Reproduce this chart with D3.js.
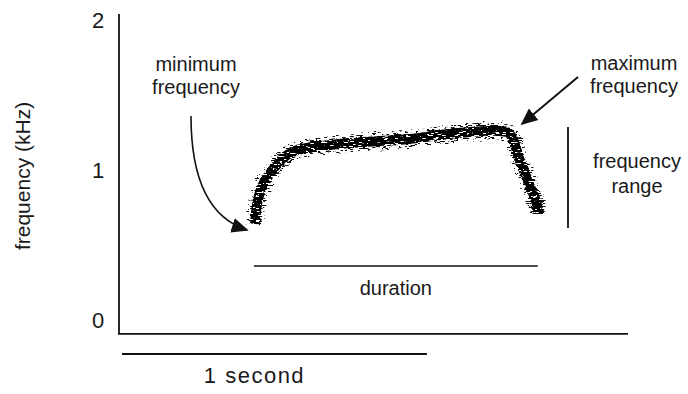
<!DOCTYPE html>
<html>
<head>
<meta charset="utf-8">
<script src="https://cdn.jsdelivr.net/npm/d3@7/dist/d3.min.js"></script>
<style>
  html, body { margin: 0; padding: 0; background: #fff; }
  svg { display: block; }
  text { font-family: "Liberation Sans", Arial, Helvetica, sans-serif; fill: #1a1a1a; }
</style>
</head>
<body>
<svg id="chart" width="688" height="394"></svg>
<script>
// Frequency contour of one call: time (s) and frequency (kHz)
const contourTime = [0.443, 0.449, 0.459, 0.475, 0.498, 0.531, 0.574, 0.630, 0.689, 0.754,
                     0.852, 0.951, 1.049, 1.148, 1.246, 1.275, 1.292, 1.308, 1.325, 1.344,
                     1.361, 1.370, 1.374];
const contourFreq = [0.640, 0.767, 0.853, 0.927, 0.993, 1.073, 1.127, 1.153, 1.167, 1.180,
                     1.193, 1.207, 1.233, 1.253, 1.260, 1.247, 1.187, 1.080, 0.993, 0.893,
                     0.813, 0.747, 0.707];

// Axis ticks
const freqTicks = [0, 1, 2];
const freqTickLabels = ["0", "1", "2"];

// Measured call parameters
const callStart = 0.439;     // s
const callEnd = 1.370;       // s
const freqMin = 0.613;       // kHz
const freqMax = 1.287;       // kHz
const scaleBar = [0, 1];     // s, "1 second" bar

const svg = d3.select("#chart");

const x = d3.scaleLinear().domain([0, 1.666]).range([120, 628]);
const y = d3.scaleLinear().domain([0, 2]).range([320, 20]);

// plot frame limits (in data units)
const tLo = 0, tHi = 1.666;
const fLo = -0.093, fHi = 2.04;

const defs = svg.append("defs");

// Grain filters: horizontal speckle like a printed spectrogram
function grainFilter(id, seed, freq, slope, offset, disp) {
  const f = defs.append("filter").attr("id", id)
    .attr("x", "-10%").attr("y", "-40%").attr("width", "120%").attr("height", "180%");
  f.append("feTurbulence").attr("type", "fractalNoise")
    .attr("baseFrequency", "0.2 0.7").attr("numOctaves", 1).attr("seed", seed + 11).attr("result", "n");
  f.append("feDisplacementMap").attr("in", "SourceGraphic").attr("in2", "n")
    .attr("scale", disp).attr("xChannelSelector", "R").attr("yChannelSelector", "G").attr("result", "d");
  f.append("feTurbulence").attr("type", "fractalNoise")
    .attr("baseFrequency", freq).attr("numOctaves", 2).attr("seed", seed).attr("result", "n2");
  f.append("feColorMatrix").attr("in", "n2").attr("type", "matrix")
    .attr("values", `0 0 0 0 0  0 0 0 0 0  0 0 0 0 0  ${slope} 0 0 0 ${offset}`).attr("result", "mask");
  f.append("feComposite").attr("in", "d").attr("in2", "mask").attr("operator", "in");
}
grainFilter("grainCore", 3, "0.18 1.1", -24, 15.6, 3.5);
grainFilter("grainFringe", 9, "0.22 1.4", -22, 9.4, 8);

// Arrowhead
defs.append("marker").attr("id", "head")
  .attr("viewBox", "0 0 10 10").attr("refX", 9).attr("refY", 5)
  .attr("markerWidth", 17).attr("markerHeight", 17).attr("markerUnits", "userSpaceOnUse")
  .attr("orient", "auto")
  .append("path").attr("d", "M0,0.6 L10,5 L0,9.4 Z").attr("fill", "#111");

// Axes frame
svg.append("line")
  .attr("x1", x(tLo) - 1).attr("x2", x(tLo) - 1)
  .attr("y1", y(fHi)).attr("y2", y(fLo))
  .attr("stroke", "#111").attr("stroke-width", 1.8);
svg.append("line")
  .attr("x1", x(tLo) - 1.9).attr("x2", x(tHi))
  .attr("y1", y(fLo)).attr("y2", y(fLo))
  .attr("stroke", "#111").attr("stroke-width", 1.8);

// Frequency tick labels
const yAxis = d3.axisLeft(y).tickValues(freqTicks)
  .tickFormat((d, i) => freqTickLabels[i]).tickSize(0).tickPadding(0);
const gy = svg.append("g").attr("transform", `translate(${x(tLo) - 22},0)`).call(yAxis);
gy.select(".domain").remove();
gy.selectAll("text")
  .attr("text-anchor", "middle").attr("dy", "0.36em")
  .style("font-family", '"Liberation Sans", Arial, sans-serif')
  .style("font-size", "22px").attr("fill", "#1a1a1a");

// Axis title
svg.append("text")
  .attr("transform", `translate(30,${(y(fHi) + y(fLo)) / 2 + 2}) rotate(-90)`)
  .attr("text-anchor", "middle")
  .style("font-size", "21px")
  .text("frequency (kHz)");

// Spectrogram trace
const line = d3.line()
  .x((d, i) => x(contourTime[i]))
  .y((d, i) => y(contourFreq[i]))
  .curve(d3.curveCatmullRom.alpha(0.5));

svg.append("path")
  .attr("d", line(contourTime))
  .attr("filter", "url(#grainFringe)")
  .attr("fill", "none").attr("stroke", "#111")
  .attr("stroke-width", 17).attr("stroke-linecap", "butt").attr("stroke-linejoin", "round");
svg.append("path")
  .attr("d", line(contourTime))
  .attr("filter", "url(#grainCore)")
  .attr("fill", "none").attr("stroke", "#050505")
  .attr("stroke-width", 10).attr("stroke-linecap", "butt").attr("stroke-linejoin", "round");

// Duration bar
const durY = 266;
svg.append("line")
  .attr("x1", x(callStart)).attr("x2", x(callEnd))
  .attr("y1", durY).attr("y2", durY)
  .attr("stroke", "#111").attr("stroke-width", 1.6);
svg.append("text")
  .attr("x", (x(callStart) + x(callEnd)) / 2).attr("y", durY + 29)
  .attr("text-anchor", "middle").style("font-size", "20px")
  .text("duration");

// Frequency range bar
const rangeX = 568;
svg.append("line")
  .attr("x1", rangeX).attr("x2", rangeX)
  .attr("y1", y(freqMax)).attr("y2", y(freqMin))
  .attr("stroke", "#111").attr("stroke-width", 1.8);
const rangeLabel = svg.append("text")
  .attr("text-anchor", "middle").style("font-size", "20px");
rangeLabel.append("tspan").attr("x", 637).attr("y", 168).text("frequency");
rangeLabel.append("tspan").attr("x", 637).attr("y", 193).text("range");

// Minimum frequency annotation
const minLabel = svg.append("text").attr("text-anchor", "middle").style("font-size", "20px");
minLabel.append("tspan").attr("x", 196).attr("y", 71).text("minimum");
minLabel.append("tspan").attr("x", 196).attr("y", 94).text("frequency");
svg.append("path")
  .attr("d", `M191,116 Q191,212 ${x(contourTime[0]) - 8},${y(contourFreq[0]) + 6}`)
  .attr("fill", "none").attr("stroke", "#111").attr("stroke-width", 1.6)
  .attr("marker-end", "url(#head)");

// Maximum frequency annotation
const maxLabel = svg.append("text").attr("text-anchor", "middle").style("font-size", "20px");
maxLabel.append("tspan").attr("x", 634).attr("y", 70).text("maximum");
maxLabel.append("tspan").attr("x", 634).attr("y", 93).text("frequency");
svg.append("line")
  .attr("x1", 578).attr("y1", 77)
  .attr("x2", x(contourTime[14]) + 22).attr("y2", y(contourFreq[14]) - 7)
  .attr("stroke", "#111").attr("stroke-width", 2)
  .attr("marker-end", "url(#head)");

// Time scale bar
const barY = 354;
svg.append("line")
  .attr("x1", x(scaleBar[0]) + 2).attr("x2", x(scaleBar[1]) + 2)
  .attr("y1", barY).attr("y2", barY)
  .attr("stroke", "#111").attr("stroke-width", 1.8);
svg.append("text")
  .attr("x", (x(scaleBar[0]) + x(scaleBar[1])) / 2 - 18).attr("y", barY + 29)
  .attr("text-anchor", "middle").style("font-size", "22px")
  .style("letter-spacing", "1.5px")
  .text("1 second");
</script>
</body>
</html>
